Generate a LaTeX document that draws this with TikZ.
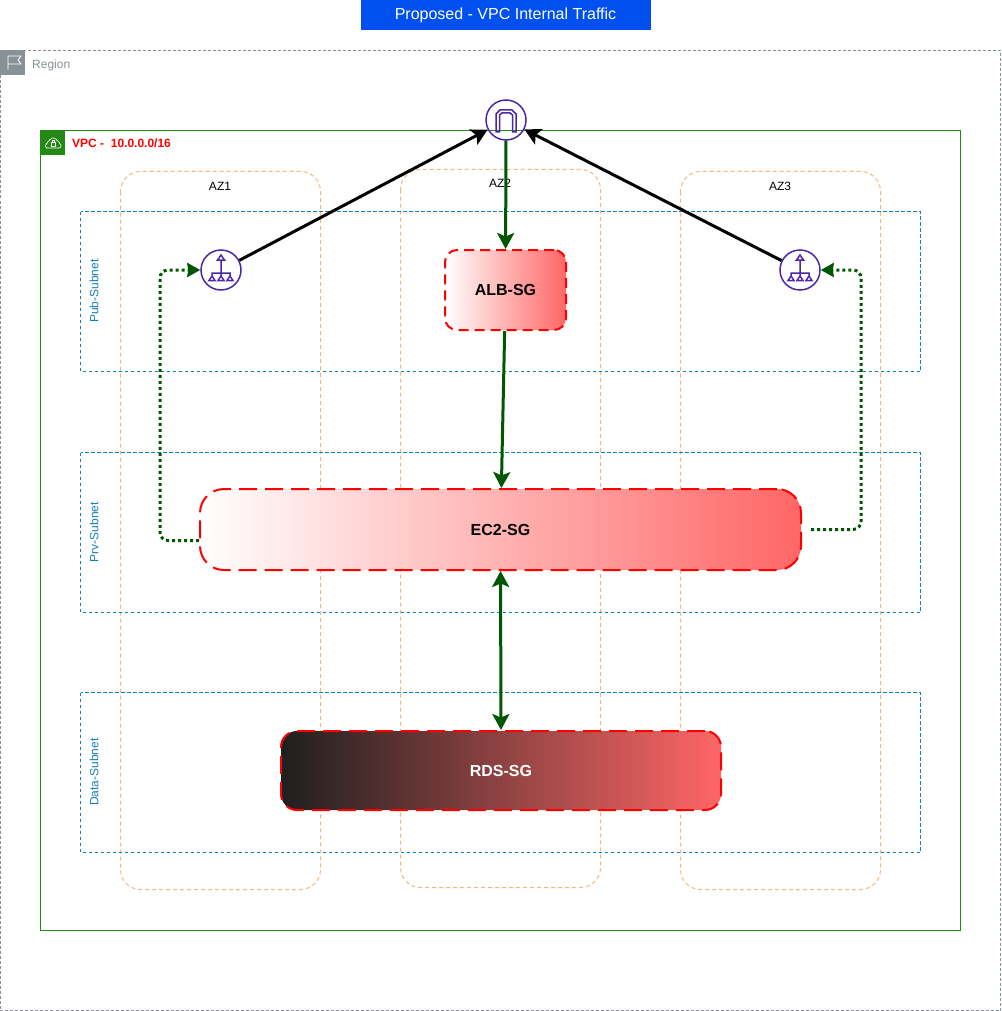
\documentclass[tikz,border=0pt]{standalone}
\usepackage{fontspec}
\setmainfont{Liberation Sans}
\usepackage{xcolor}
\usepackage{tikz}
\usetikzlibrary{arrows.meta}
\definecolor{dgreen}{HTML}{005700}
\definecolor{vpcgreen}{HTML}{248814}
\definecolor{regiongray}{HTML}{879196}
\definecolor{subnetblue}{HTML}{147EBA}
\definecolor{azorange}{HTML}{F7B57C}
\definecolor{iconpurple}{HTML}{4D27AA}
\definecolor{titleblue}{HTML}{0050EF}
\definecolor{sgred}{HTML}{FF6666}
\newcommand\txt[1]{\fontsize{#1}{#1}\selectfont}
\tikzstyle{region}=[draw=regiongray,line width=1pt,dash pattern=on 3pt off 2pt]
\tikzstyle{vpc}=[draw=vpcgreen,line width=1pt]
\tikzstyle{subnet}=[draw=subnetblue,line width=1pt,dash pattern=on 3.5pt off 2.5pt]
\tikzstyle{az}=[draw=azorange,line width=1pt,dash pattern=on 4pt off 3pt,rounded corners=20pt]
\tikzstyle{sg}=[draw=red,line width=2pt,dash pattern=on 18pt off 8pt,inner sep=0pt,font=\txt{16}\bfseries,rectangle]
\tikzstyle{badge}=[circle,draw=iconpurple,line width=1.5pt,minimum size=40pt,inner sep=0pt]
\tikzstyle{sublabel}=[rotate=90,text=subnetblue,font=\txt{12},inner sep=0pt]
\tikzstyle{azlabel}=[font=\txt{12},inner sep=0pt]
\tikzstyle{linkhead}=[>/.tip={Stealth[length=16pt,width=17pt,inset=3.5pt]}]
\tikzstyle{link}=[line width=3pt,linkhead,->]
\tikzstyle{dotlink}=[dgreen,line width=3pt,dash pattern=on 3pt off 3pt,rounded corners=8pt,-{Stealth[length=13pt,width=14pt,inset=1pt]}]
\tikzset{
	lbicon/.pic={
		\draw[iconpurple,line width=1.5pt] (0,-15) -- (-3.5,-10) -- (3.5,-10) -- cycle
			(0,-10) -- (0,3) (-9,6) -- (-9,3) -- (9,3) -- (9,6) (0,3) -- (0,6)
			(-9,6) -- (-12,10.5) -- (-6,10.5) -- cycle
			(0,6) -- (-3,10.5) -- (3,10.5) -- cycle
			(9,6) -- (6,10.5) -- (12,10.5) -- cycle;
	},
	gwicon/.pic={
		\draw[iconpurple,line width=1.5pt] (-10,12) -- (-10,-6) -- (-6,-10) -- (6,-10) -- (10,-6) -- (10,12) -- (6.5,12) -- (6.5,-5) -- (4,-7) -- (-4,-7) -- (-6.5,-5) -- (-6.5,12) -- cycle;
	}
}
\begin{document}
\begin{tikzpicture}[x=1pt,y=-1pt]
	\useasboundingbox (0,0) rectangle (1001,1011);
	\node[fill=titleblue,text=white,minimum width=290pt,minimum height=30pt,inner sep=0pt,font=\txt{16}] (title) at (505.5,15) {Proposed - VPC Internal Traffic};
	\draw[region] (0.5,50.5) rectangle (1000.5,1010.5);
	\fill[regiongray] (0,50) rectangle (25,75);
	\draw[white,line width=.8pt] (8,70) -- (8,56) -- (21,56) -- (18,60) -- (21,64) -- (8,64);
	\node[anchor=west,text=regiongray,font=\txt{12},inner sep=0pt] (regionlabel) at (32,65) {Region};
	\draw[vpc] (40.5,130.5) rectangle (960.5,930.5);
	\fill[vpcgreen] (40,130) rectangle (65,155);
	\draw[white,line width=.6pt,rounded corners=2pt] (48,148) -- (45.5,148) -- (45.5,143.5) -- (49,142) -- (50,138.5) -- (55,137.5) -- (57.5,141.5) -- (61,143.5) -- (61,148) -- cycle;
	\draw[white,line width=.6pt] (51,142.5) rectangle (55.5,146.5) (51.8,142.5) -- (51.8,140.5) -- (54.7,140.5) -- (54.7,142.5);
	\node[anchor=west,text=red,font=\txt{12}\bfseries,inner sep=0pt] (vpclabel) at (72,143.5) {VPC -\ \ 10.0.0.0/16};
	\draw[az] (120.5,171.5) rectangle (320.5,889.5);
	\draw[az] (400.5,169.5) rectangle (600.5,887.5);
	\draw[az] (680.5,171.5) rectangle (880.5,889.5);
	\node[azlabel] (aza) at (220,186) {AZ1};
	\node[azlabel] (azb) at (500,183) {AZ2};
	\node[azlabel] (azc) at (780,186) {AZ3};
	\draw[subnet] (80.5,211.5) rectangle (920.5,371.5);
	\draw[subnet] (80.5,452.5) rectangle (920.5,612.5);
	\draw[subnet] (80.5,692.5) rectangle (920.5,852.5);
	\node[sublabel] (pub) at (94,291) {Pub-Subnet};
	\node[sublabel] (prv) at (94,532) {Prv-Subnet};
	\node[sublabel] (data) at (94,772) {Data-Subnet};
	\node[badge] (igw) at (506,120) {};
	\pic at (igw) {gwicon};
	\node[badge] (nata) at (221,270) {};
	\pic at (nata) {lbicon};
	\node[badge] (natc) at (800,270) {};
	\pic at (natc) {lbicon};
	\node[sg,dash pattern=on 10pt off 6pt,left color=white,right color=sgred,rounded corners=12pt,minimum width=121pt,minimum height=80pt] (alb) at (505.5,290) {ALB-SG};
	\node[sg,left color=white,right color=sgred,rounded corners=24pt,minimum width=601pt,minimum height=81pt] (ec2) at (500.5,529.5) {EC2-SG};
	\node[sg,left color=black!88,right color=sgred,text=white,rounded corners=16pt,minimum width=440pt,minimum height=79pt] (rds) at (501,770.5) {RDS-SG};
	\draw[link,black] (nata) -- (igw);
	\draw[link,black] (natc) -- (igw);
	\draw[link,dgreen] (igw) -- (alb);
	\draw[link,dgreen] (alb) -- (ec2);
	\draw[link,dgreen,<->] (ec2) -- (rds);
	\draw[dotlink] ([yshift=-11pt]ec2.west) -- ++(-39,0) |- (nata);
	\draw[dotlink] ([xshift=9pt]ec2.east) -- ++(50,0) |- (natc);
\end{tikzpicture}
\end{document}
